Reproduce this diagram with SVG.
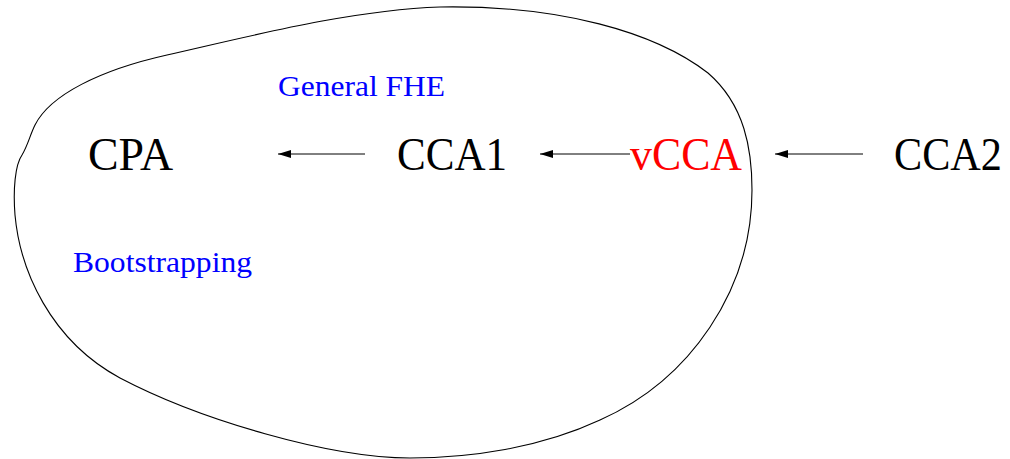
<svg xmlns="http://www.w3.org/2000/svg" width="1010" height="459" viewBox="0 0 1010 459">
  <style>
    .node { font-family: "Liberation Serif", "DejaVu Serif", serif; font-size: 46px; fill: #000; }
    .hl { fill: #ff0000; }
    .note { font-family: "Liberation Serif", "DejaVu Serif", serif; font-size: 30px; fill: #0000ff; }
    .edge { stroke: #000; stroke-width: 1; fill: none; }
    .blob { stroke: #000; stroke-width: 1.1; fill: none; }
  </style>
  <defs>
    <marker id="arrow" markerUnits="userSpaceOnUse" markerWidth="14" markerHeight="8" refX="13" refY="4" orient="auto">
      <path d="M0,0 L13,4 L0,8 Z" fill="#000"/>
    </marker>
  </defs>
  <rect width="1010" height="459" fill="#fff"/>

  <!-- region boundary -->
  <path class="blob" d="M440,7 C560,5 655,32 708,73 C745,105 752,150 752,190 C752,290 690,380 600,420 C540,448 470,458 410,458 C330,458 200,420 120,378 C50,340 20,270 15,215 C13,190 15,165 22,155 C28,145 30,135 35,125 C50,95 100,70 167,55 C247,37 350,10 440,7 Z"/>

  <g id="labels">
    <text class="note" x="278" y="96" textLength="167" lengthAdjust="spacingAndGlyphs">General FHE</text>
    <text class="note" x="73" y="272" textLength="179" lengthAdjust="spacingAndGlyphs">Bootstrapping</text>
  </g>

  <g id="connectors">
    <line class="edge" x1="365" y1="154" x2="278" y2="154" marker-end="url(#arrow)"/>
    <line class="edge" x1="630" y1="154" x2="540" y2="154" marker-end="url(#arrow)"/>
    <line class="edge" x1="863" y1="154" x2="775" y2="154" marker-end="url(#arrow)"/>
  </g>

  <g id="node-cpa"><text class="node" x="88" y="170" textLength="85" lengthAdjust="spacingAndGlyphs">CPA</text></g>
  <g id="node-cca1"><text class="node" x="397" y="170" textLength="110" lengthAdjust="spacingAndGlyphs">CCA1</text></g>
  <g id="node-vcca"><text class="node hl" x="630" y="170" textLength="112" lengthAdjust="spacingAndGlyphs">vCCA</text></g>
  <g id="node-cca2"><text class="node" x="894" y="170" textLength="108" lengthAdjust="spacingAndGlyphs">CCA2</text></g>
</svg>
